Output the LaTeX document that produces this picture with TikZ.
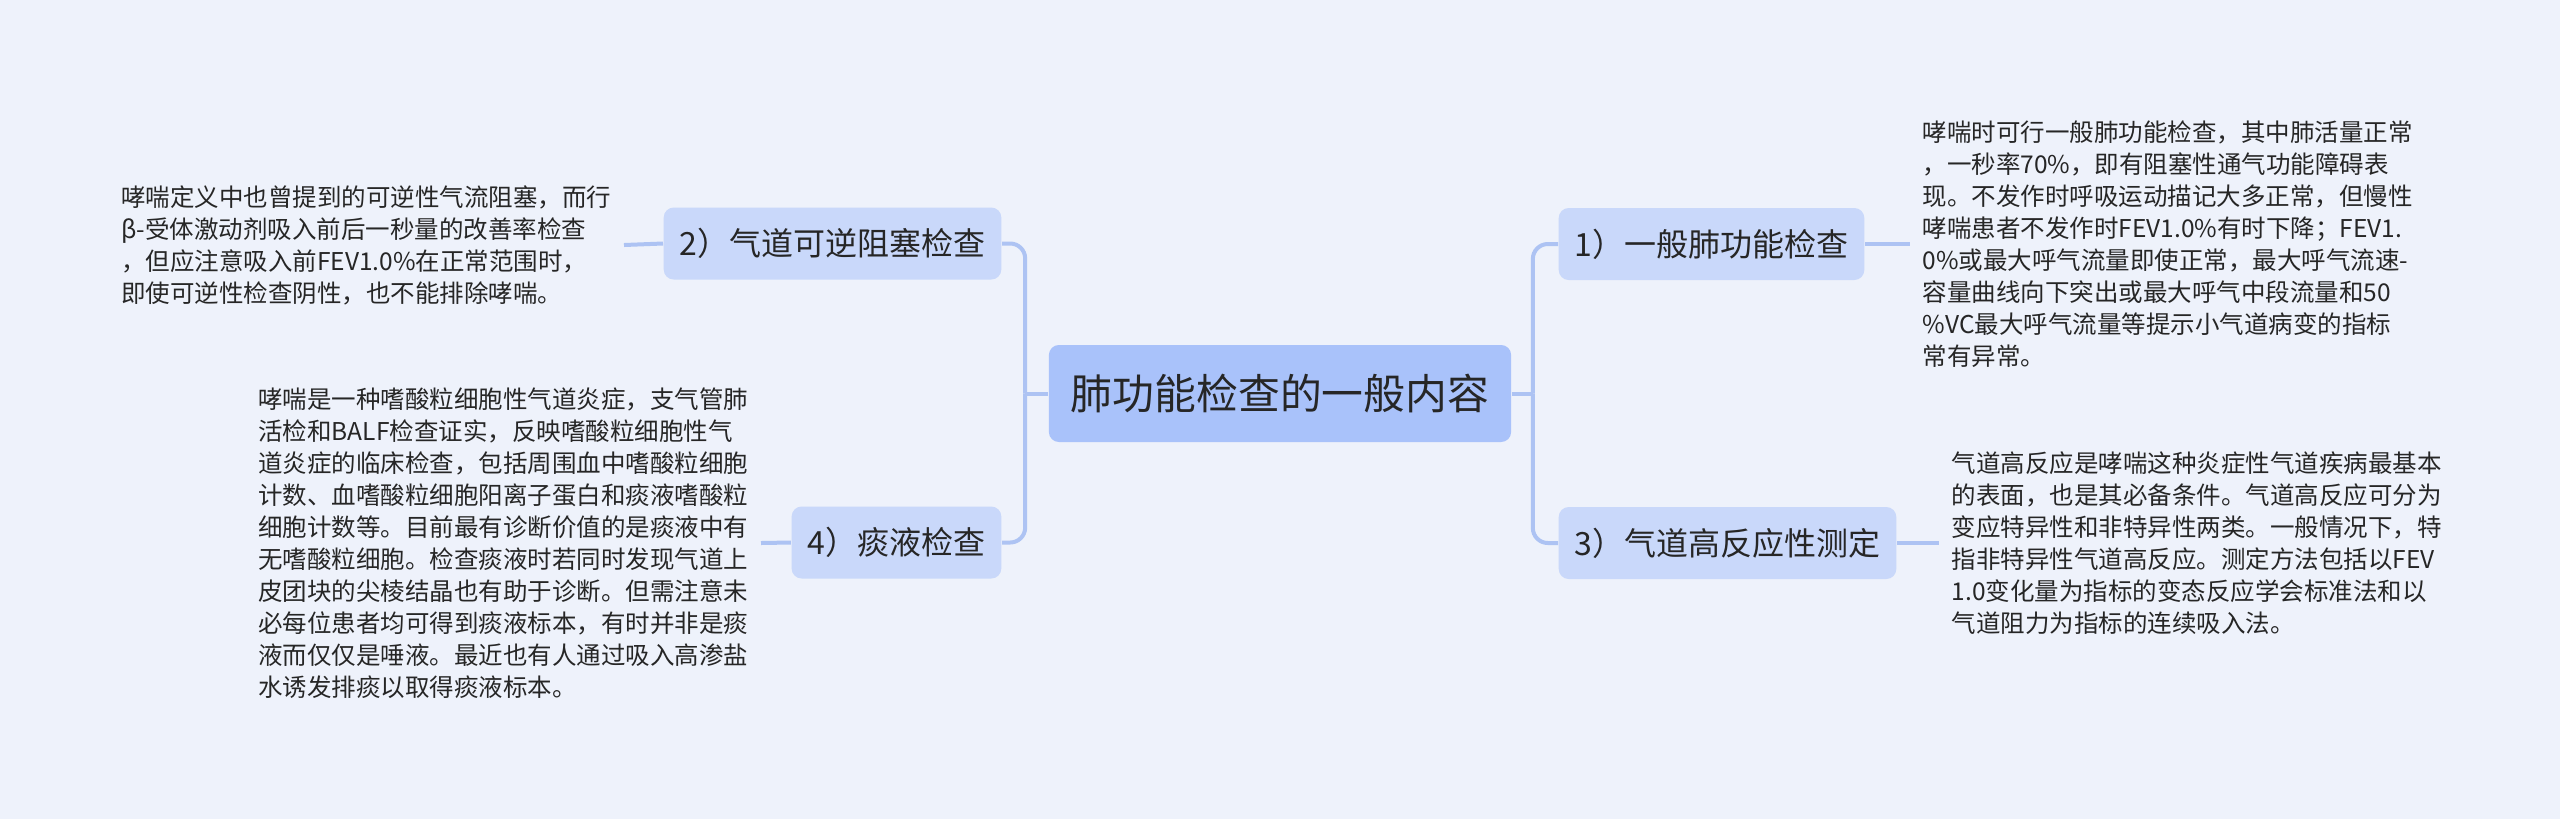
\documentclass[tikz,border=0pt]{standalone}
\usepackage{fontspec}
\setmainfont{Noto Sans CJK SC}
\usepackage{xcolor}
\usepackage{tikz}
\usetikzlibrary{positioning}
\definecolor{bgc}{HTML}{EEF2FB}
\definecolor{rootc}{HTML}{A9C2FA}
\definecolor{subc}{HTML}{C9D8FA}
\definecolor{linec}{HTML}{ADC3F3}
\definecolor{inkc}{HTML}{262626}
\tikzset{
  link/.style={linec,line width=0.04cm,rounded corners=0.15cm},
  rootbox/.style={fill=rootc,rounded corners=0.1cm,text=inkc,inner xsep=0.22cm,minimum height=0.97cm,font=\fontsize{11.9pt}{14pt}\selectfont},
  subbox/.style={fill=subc,rounded corners=0.1cm,text=inkc,inner xsep=0.16cm,minimum height=0.72cm,font=\fontsize{9.1pt}{11pt}\selectfont},
  leaf/.style={align=left,text=inkc,inner xsep=0.12cm,inner ysep=0pt,font=\fontsize{6.97pt}{9.1pt}\selectfont}
}

\begin{document}
\begin{tikzpicture}
\fill[bgc] (0,0) rectangle (25.60,-8.19);
\useasboundingbox (0,0) rectangle (25.60,-8.19);
% root and branches
\node[rootbox] (root) at (12.80,-3.935) {肺功能检查的一般内容};
\node[subbox,anchor=west] (c1) at (15.58,-2.44) {1）一般肺功能检查};
\node[subbox,anchor=west] (c3) at (15.58,-5.43) {3）气道高反应性测定};
\node[subbox,anchor=east] (c2) at (10.02,-2.435) {2）气道可逆阻塞检查};
\node[subbox,anchor=east] (c4) at (10.02,-5.425) {4）痰液检查};
% leaves
\node[leaf,anchor=west] (l1) at (19.10,-2.44) {哮喘时可行一般肺功能检查，其中肺活量正常\\
，一秒率70\%，即有阻塞性通气功能障碍表\\
现。不发作时呼吸运动描记大多正常，但慢性\\
哮喘患者不发作时FEV1.0\%有时下降；FEV1.\\
0\%或最大呼气流量即使正常，最大呼气流速-\\
容量曲线向下突出或最大呼气中段流量和50\\
\%VC最大呼气流量等提示小气道病变的指标\\
常有异常。};
\node[leaf,anchor=west] (l3) at (19.39,-5.43) {气道高反应是哮喘这种炎症性气道疾病最基本\\
的表面，也是其必备条件。气道高反应可分为\\
变应特异性和非特异性两类。一般情况下，特\\
指非特异性气道高反应。测定方法包括以FEV\\
1.0变化量为指标的变态反应学会标准法和以\\
气道阻力为指标的连续吸入法。};
\node[leaf,anchor=east] (l2) at (6.24,-2.45) {哮喘定义中也曾提到的可逆性气流阻塞，而行\\
β-受体激动剂吸入前后一秒量的改善率检查\\
，但应注意吸入前FEV1.0\%在正常范围时，\\
即使可逆性检查阴性，也不能排除哮喘。};
\node[leaf,anchor=east] (l4) at (7.61,-5.43) {哮喘是一种嗜酸粒细胞性气道炎症，支气管肺\\
活检和BALF检查证实，反映嗜酸粒细胞性气\\
道炎症的临床检查，包括周围血中嗜酸粒细胞\\
计数、血嗜酸粒细胞阳离子蛋白和痰液嗜酸粒\\
细胞计数等。目前最有诊断价值的是痰液中有\\
无嗜酸粒细胞。检查痰液时若同时发现气道上\\
皮团块的尖棱结晶也有助于诊断。但需注意未\\
必每位患者均可得到痰液标本，有时并非是痰\\
液而仅仅是唾液。最近也有人通过吸入高渗盐\\
水诱发排痰以取得痰液标本。};
% connectors
\draw[link] (root.west) -- ++(-0.23,0) coordinate (lj);
\draw[link] (root.east) -- ++(0.21,0) coordinate (rj);
\draw[link] (lj) |- (c2.east);
\draw[link] (lj) |- (c4.east);
\draw[link] (rj) |- (c1.west);
\draw[link] (rj) |- (c3.west);
\draw[link] (c1.east) -- (l1.west);
\draw[link] (c3.east) -- (l3.west);
\draw[link] (c2.west) -- (l2.east);
\draw[link] (c4.west) -- (l4.east);
\end{tikzpicture}
\end{document}
